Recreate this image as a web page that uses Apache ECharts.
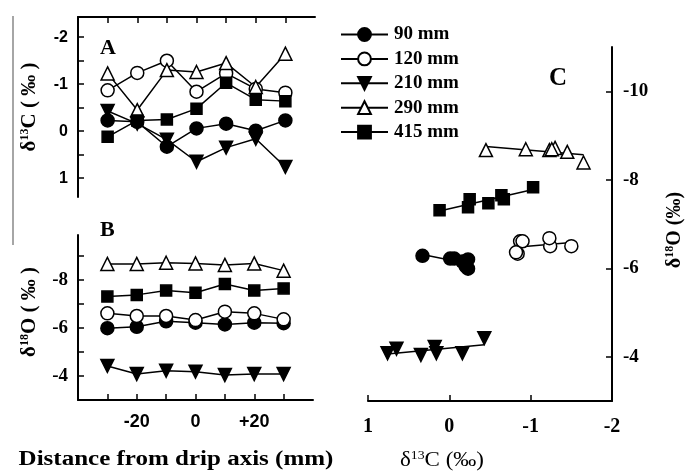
<!DOCTYPE html>
<html>
<head>
<meta charset="utf-8">
<script src="https://cdn.jsdelivr.net/npm/echarts@6/dist/echarts.min.js"></script>
<style>
  html, body { margin: 0; padding: 0; background: #fff; }
  #chart { width: 690px; height: 474px; }
</style>
</head>
<body>
<div id="chart"></div>
<script>
// Sampling positions along the profile (mm from drip axis)
const distances = [-30, -20, -10, 0, 10, 20, 30];
const depthNames = ['90 mm', '120 mm', '210 mm', '290 mm', '415 mm'];

// δ13C (‰) per depth layer, one value per distance
const carbon90  = [-0.23, -0.20, 0.33, -0.06, -0.16, -0.01, -0.23];
const carbon120 = [-0.87, -1.24, -1.50, -0.84, -1.23, -0.90, -0.82];
const carbon210 = [-0.43, -0.16, 0.18, 0.65, 0.35, 0.16, 0.76];
const carbon290 = [-1.23, -0.45, -1.30, -1.26, -1.45, -0.94, -1.65];
const carbon415 = [0.12, -0.23, -0.25, -0.48, -1.03, -0.67, -0.64];

// δ18O (‰) per depth layer, one value per distance
const oxygen90  = [-5.99, -6.05, -6.28, -6.22, -6.15, -6.22, -6.20];
const oxygen120 = [-6.61, -6.50, -6.50, -6.33, -6.68, -6.61, -6.36];
const oxygen210 = [-4.42, -4.08, -4.22, -4.18, -4.04, -4.08, -4.08];
const oxygen290 = [-8.67, -8.67, -8.72, -8.69, -8.63, -8.69, -8.39];
const oxygen415 = [-7.31, -7.38, -7.56, -7.47, -7.83, -7.56, -7.65];

// Tick values
const ticksA = [-2, -1.5, -1, -0.5, 0, 0.5, 1];
const labelsA = [-2, -1, 0, 1];
const ticksB = [-9, -8, -7, -6, -5, -4];
const labelsB = [-8, -6, -4];
const labelsDist = [-20, 0, 20];
const ticksCx = [1, 0, -1, -2];
const ticksCy = [-10, -8, -6, -4];

const carbon = [carbon90, carbon120, carbon210, carbon290, carbon415];
const oxygen = [oxygen90, oxygen120, oxygen210, oxygen290, oxygen415];

const SERIF = "'Liberation Serif', 'DejaVu Serif', serif";
const SANS = "'Liberation Sans', Arial, sans-serif";

// Marker look for each depth layer
const markers = [
  { symbol: 'circle',   size: 13, fill: '#000', rotate: 0 },
  { symbol: 'circle',   size: 13, fill: '#fff', rotate: 0 },
  { symbol: 'triangle', size: 13, fill: '#000', rotate: 180 },
  { symbol: 'triangle', size: 13, fill: '#fff', rotate: 0 },
  { symbol: 'rect',     size: 11, fill: '#000', rotate: 0 }
];

// Least-squares line of δ18O on δ13C, spanning the δ13C range of the layer
function fitLine(xs, ys) {
  const n = xs.length;
  const mx = xs.reduce((a, b) => a + b, 0) / n;
  const my = ys.reduce((a, b) => a + b, 0) / n;
  let sxy = 0, sxx = 0;
  for (let i = 0; i < n; i++) {
    sxy += (xs[i] - mx) * (ys[i] - my);
    sxx += (xs[i] - mx) * (xs[i] - mx);
  }
  const b = sxy / sxx;
  const a = my - b * mx;
  const lo = Math.min(...xs), hi = Math.max(...xs);
  return [[lo, a + b * lo], [hi, a + b * hi]];
}

const axisLine = { show: true, onZero: false, lineStyle: { color: '#000', width: 2 } };
const tick = (vals) => ({ show: true, inside: true, length: 6, lineStyle: { color: '#000', width: 1.5 }, customValues: vals });

function markerStyle(m) {
  return {
    symbol: m.symbol,
    symbolSize: m.size,
    symbolRotate: m.rotate,
    itemStyle: { color: m.fill, borderColor: '#000', borderWidth: 1.5, opacity: 1 }
  };
}

const series = [];
// Panel A: δ13C profiles
depthNames.forEach((name, k) => {
  series.push(Object.assign({
    name, type: 'line', xAxisIndex: 0, yAxisIndex: 0,
    data: distances.map((d, i) => [d, carbon[k][i]]),
    lineStyle: { color: '#000', width: 1.5 },
    showSymbol: true
  }, markerStyle(markers[k])));
});
// Panel B: δ18O profiles
depthNames.forEach((name, k) => {
  series.push(Object.assign({
    name, type: 'line', xAxisIndex: 1, yAxisIndex: 1,
    data: distances.map((d, i) => [d, oxygen[k][i]]),
    lineStyle: { color: '#000', width: 1.5 },
    showSymbol: true
  }, markerStyle(markers[k])));
});
// Panel C: δ18O against δ13C with fitted lines
depthNames.forEach((name, k) => {
  series.push({
    name, type: 'line', xAxisIndex: 2, yAxisIndex: 2, z: 1,
    data: fitLine(carbon[k], oxygen[k]),
    symbol: 'none',
    lineStyle: { color: '#000', width: 1.5 }
  });
  series.push(Object.assign({
    name, type: 'scatter', xAxisIndex: 2, yAxisIndex: 2, z: 3,
    data: carbon[k].map((c, i) => [c, oxygen[k][i]])
  }, markerStyle(markers[k])));
});

const chart = echarts.init(document.getElementById('chart'), null, { renderer: 'canvas' });

chart.setOption({
  animation: false,
  backgroundColor: '#fff',
  legend: {
    data: depthNames,
    orient: 'vertical',
    left: 335,
    top: 20,
    itemWidth: 47,
    itemHeight: 16,
    itemGap: 5.4,
    selectedMode: false,
    textStyle: { fontFamily: SERIF, fontWeight: 'bold', fontSize: 19, color: '#000', lineHeight: 16, padding: [0, 0, 0, 1] }
  },
  grid: [
    { left: 78, top: 17, width: 237, height: 180 },
    { left: 78, top: 235, width: 235, height: 165 },
    { left: 368, top: 47, width: 244, height: 354 }
  ],
  xAxis: [
    {
      gridIndex: 0, type: 'value', position: 'top', min: -40, max: 40,
      axisLine, axisTick: tick(distances), axisLabel: { show: false }, splitLine: { show: false }
    },
    {
      gridIndex: 1, type: 'value', position: 'bottom', min: -40, max: 40,
      axisLine, axisTick: tick(distances), splitLine: { show: false },
      axisLabel: {
        customValues: labelsDist, margin: 13, color: '#000',
        fontFamily: SANS, fontWeight: 'bold', fontSize: 18,
        formatter: v => (v > 0 ? '+' + v : String(v))
      }
    },
    {
      gridIndex: 2, type: 'value', position: 'bottom', min: -2, max: 1, inverse: true,
      axisLine, axisTick: tick(ticksCx), splitLine: { show: false },
      axisLabel: { customValues: ticksCx, margin: 16, color: '#000', fontFamily: SERIF, fontWeight: 'bold', fontSize: 20 }
    }
  ],
  yAxis: [
    {
      gridIndex: 0, type: 'value', min: -2.43, max: 1.4, inverse: true,
      axisLine, axisTick: tick(ticksA), splitLine: { show: false },
      axisLabel: { customValues: labelsA, margin: 10, color: '#000', fontFamily: SANS, fontWeight: 'bold', fontSize: 16 }
    },
    {
      gridIndex: 1, type: 'value', min: -9.875, max: -3, inverse: true,
      axisLine, axisTick: tick(ticksB), splitLine: { show: false },
      axisLabel: { customValues: labelsB, margin: 10, color: '#000', fontFamily: SERIF, fontWeight: 'bold', fontSize: 19 }
    },
    {
      gridIndex: 2, type: 'value', position: 'right', min: -11, max: -3, inverse: true,
      axisLine, axisTick: tick(ticksCy), splitLine: { show: false },
      axisLabel: { customValues: ticksCy, margin: 11, color: '#000', fontFamily: SERIF, fontWeight: 'bold', fontSize: 19 }
    }
  ],
  graphic: [
    { type: 'line', shape: { x1: 13, y1: 16, x2: 13, y2: 245 }, style: { stroke: '#888', lineWidth: 1.5 } },
    { type: 'text', x: 100, y: 48, style: { text: 'A', font: 'bold 22px ' + SERIF, fill: '#000', verticalAlign: 'middle' } },
    { type: 'text', x: 100, y: 230, style: { text: 'B', font: 'bold 22px ' + SERIF, fill: '#000', verticalAlign: 'middle' } },
    { type: 'text', x: 549, y: 79, style: { text: 'C', font: 'bold 25px ' + SERIF, fill: '#000', verticalAlign: 'middle' } },
    {
      type: 'text', x: 30, y: 107, rotation: Math.PI / 2,
      style: {
        text: '{t|δ}{s|13}{t|C ( ‰ )}', align: 'center', verticalAlign: 'middle',
        rich: {
          t: { fontFamily: SERIF, fontWeight: 'bold', fontSize: 21, fill: '#000', lineHeight: 22 },
          s: { fontFamily: SERIF, fontWeight: 'bold', fontSize: 12, fill: '#000', verticalAlign: 'top', lineHeight: 22 }
        }
      }
    },
    {
      type: 'text', x: 30, y: 312, rotation: Math.PI / 2,
      style: {
        text: '{t|δ}{s|18}{t|O ( ‰ )}', align: 'center', verticalAlign: 'middle',
        rich: {
          t: { fontFamily: SERIF, fontWeight: 'bold', fontSize: 21, fill: '#000', lineHeight: 22 },
          s: { fontFamily: SERIF, fontWeight: 'bold', fontSize: 12, fill: '#000', verticalAlign: 'top', lineHeight: 22 }
        }
      }
    },
    {
      type: 'text', x: 675, y: 230, rotation: Math.PI / 2,
      style: {
        text: '{t|δ}{s|18}{t|O (‰)}', align: 'center', verticalAlign: 'middle',
        rich: {
          t: { fontFamily: SERIF, fontWeight: 'bold', fontSize: 20, fill: '#000', lineHeight: 22 },
          s: { fontFamily: SERIF, fontWeight: 'bold', fontSize: 12, fill: '#000', verticalAlign: 'top', lineHeight: 22 }
        }
      }
    },
    {
      type: 'text', x: 442, y: 461, scaleX: 1.15,
      style: {
        text: '{t|δ}{s|13}{t|C (‰)}', align: 'center', verticalAlign: 'middle',
        rich: {
          t: { fontFamily: SERIF, fontSize: 20, fill: '#000', lineHeight: 22 },
          s: { fontFamily: SERIF, fontSize: 12, fill: '#000', verticalAlign: 'top', lineHeight: 22 }
        }
      }
    },
    {
      type: 'text', x: 176, y: 460, scaleX: 1.25,
      style: { text: 'Distance from drip axis (mm)', font: 'bold 20px ' + SERIF, fill: '#000', align: 'center', verticalAlign: 'middle' }
    }
  ],
  series
});
</script>
</body>
</html>
